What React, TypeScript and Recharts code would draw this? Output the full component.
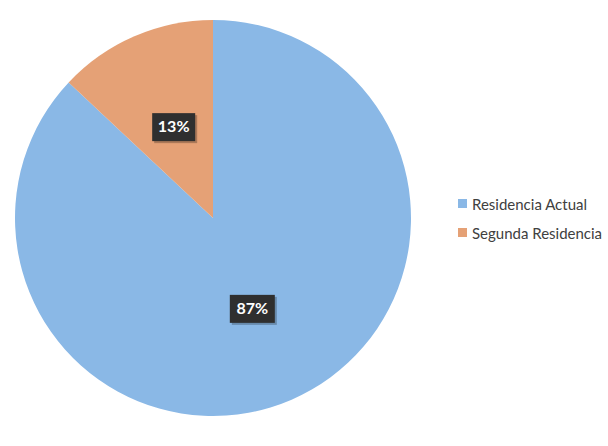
import { PieChart, Pie, Cell, Legend } from 'recharts';

const categories = ['Residencia Actual', 'Segunda Residencia'];
const shares = [87, 13];
const colors = ['#8ab8e6', '#e5a176'];

const data = categories.map((name, i) => ({ name, value: shares[i] }));

const RADIAN = Math.PI / 180;

// rough width of the percent text, so the dark box hugs it
function textWidth(s: string) {
  let w = 0;
  for (const ch of s) w += ch === '%' ? 15 : ch === '1' ? 8 : 10;
  return w;
}

function renderLabel(props: any) {
  const { cx, cy, midAngle, outerRadius, value } = props;
  const r = outerRadius * 0.5;
  const x = cx + r * Math.cos(-midAngle * RADIAN);
  const y = cy + r * Math.sin(-midAngle * RADIAN);
  const text = `${value}%`;
  const w = textWidth(text) + 10;
  const h = 28;
  return (
    <g>
      <rect x={x - w / 2 + 2} y={y - h / 2 + 2} width={w} height={h} fill="rgba(0,0,0,0.25)" />
      <rect x={x - w / 2} y={y - h / 2} width={w} height={h} fill="#2f2f2f" />
      <text
        x={x}
        y={y + 1}
        fill="#ffffff"
        textAnchor="middle"
        dominantBaseline="middle"
        fontSize={16}
        fontWeight="bold"
        fontFamily="Lato, sans-serif"
      >
        {text}
      </text>
    </g>
  );
}

function renderLegend(props: any) {
  const { payload } = props;
  return (
    <div style={{ fontFamily: 'Lato, sans-serif' }}>
      {payload.map((entry: any, i: number) => (
        <div
          key={i}
          style={{ display: 'flex', alignItems: 'center', height: 29, fontSize: 15, color: '#404040' }}
        >
          <span
            style={{ display: 'inline-block', width: 9, height: 9, background: entry.color, marginRight: 5 }}
          />
          {entry.value}
        </div>
      ))}
    </div>
  );
}

export default function App() {
  return (
    <div style={{ position: 'absolute', left: 0, top: 0, width: 608, height: 446, background: '#ffffff' }}>
      <PieChart width={608} height={446} margin={{ top: 0, right: 0, bottom: 0, left: 0 }}>
        <Pie
          data={data}
          dataKey="value"
          nameKey="name"
          cx={213}
          cy={218}
          outerRadius={198}
          startAngle={90}
          endAngle={-270}
          stroke="none"
          label={renderLabel}
          labelLine={false}
          isAnimationActive={false}
        >
          {data.map((d, i) => (
            <Cell key={d.name} fill={colors[i]} />
          ))}
        </Pie>
        <Legend
          layout="vertical"
          content={renderLegend}
          wrapperStyle={{ left: 458, top: 189, width: 150 }}
        />
      </PieChart>
    </div>
  );
}
